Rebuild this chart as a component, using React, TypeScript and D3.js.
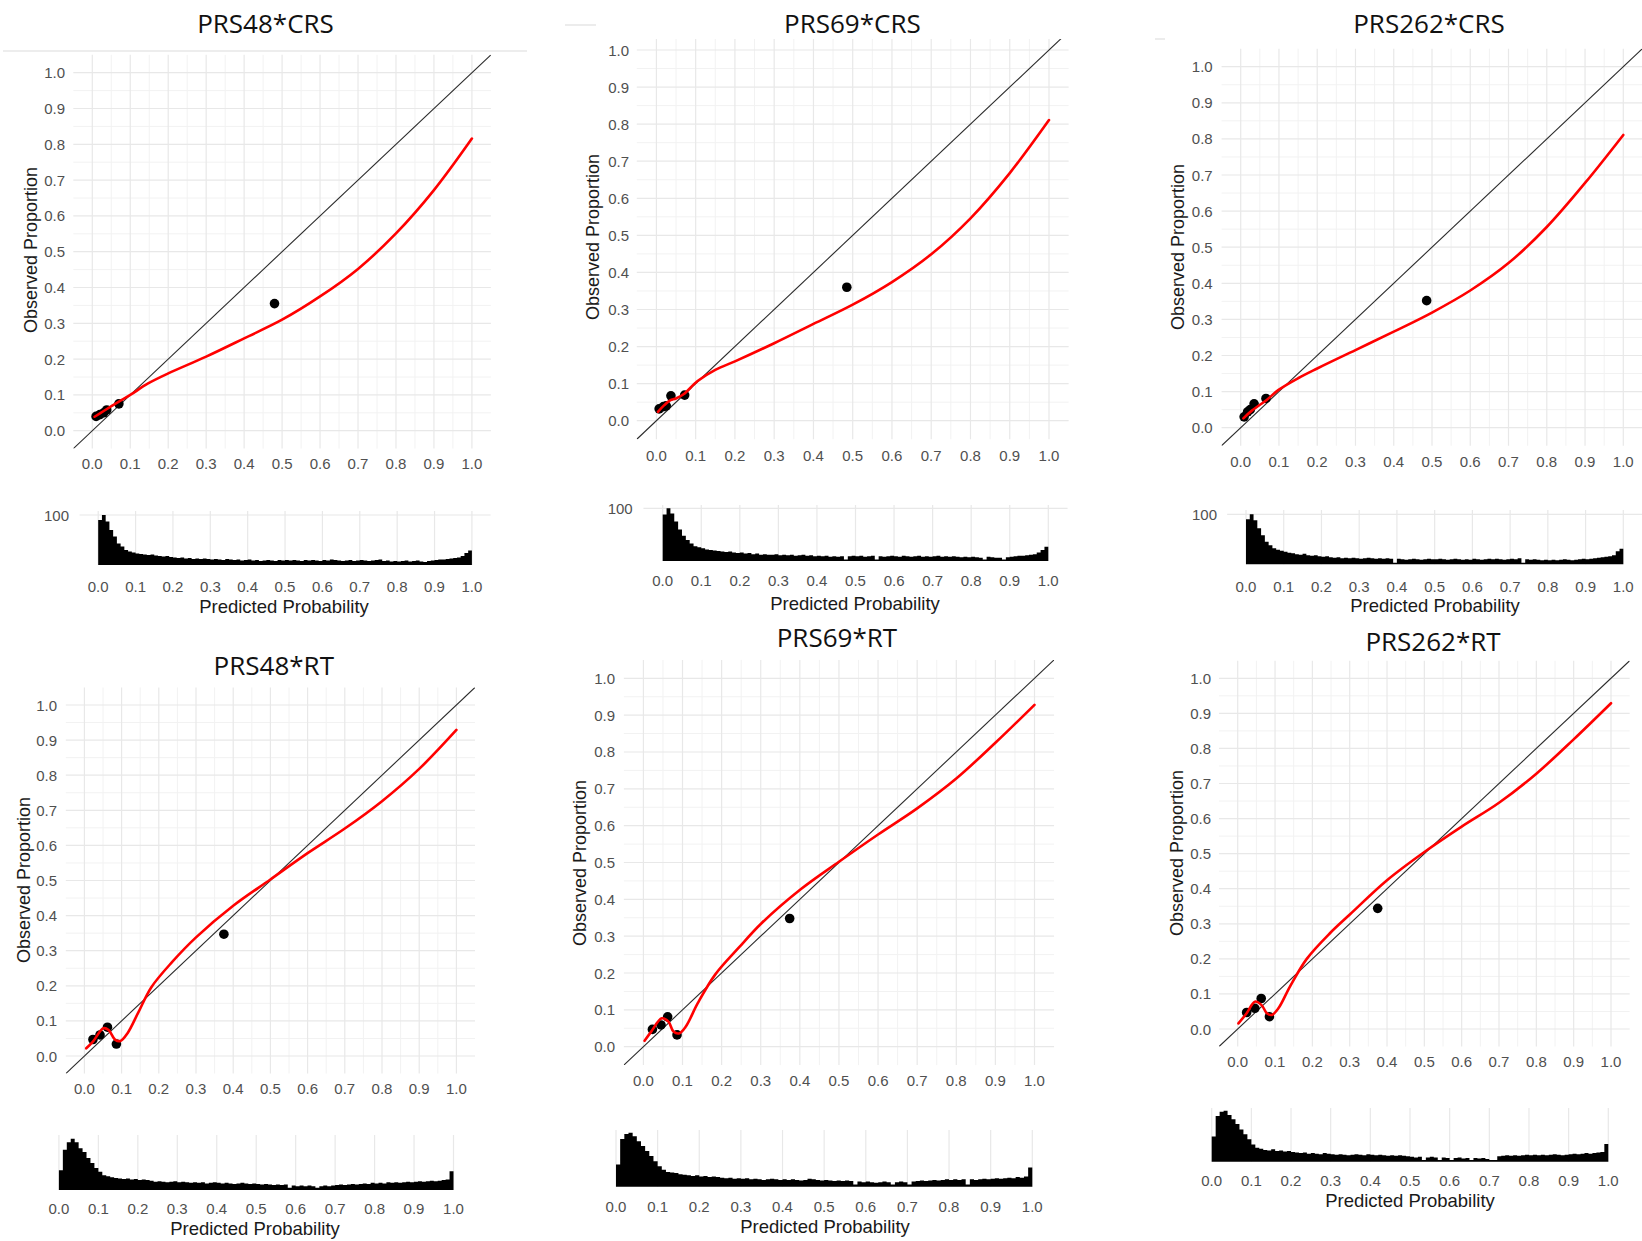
import React from "react";
import * as d3 from "d3";

// ---------- DATA ----------
const panelTitles = ["PRS48*CRS", "PRS69*CRS", "PRS262*CRS", "PRS48*RT", "PRS69*RT", "PRS262*RT"];
const tickValues = [0, 0.1, 0.2, 0.3, 0.4, 0.5, 0.6, 0.7, 0.8, 0.9, 1.0];
const tickLabels = ["0.0", "0.1", "0.2", "0.3", "0.4", "0.5", "0.6", "0.7", "0.8", "0.9", "1.0"];
const minorValues = [0.05, 0.15, 0.25, 0.35, 0.45, 0.55, 0.65, 0.75, 0.85, 0.95];
const histCountTick = 100;
const yAxisTitle = "Observed Proportion";
const xAxisTitle = "Predicted Probability";

const curve48CRS = [[0.006,0.039],[0.03,0.055],[0.07,0.081],[0.1,0.1],[0.147,0.132],[0.2,0.16],[0.3,0.207],[0.4,0.258],[0.5,0.31],[0.6,0.375],[0.7,0.452],[0.8,0.551],[0.9,0.672],[1.0,0.816]];
const points48CRS = [[0.01,0.04],[0.02,0.045],[0.03,0.05],[0.038,0.058],[0.07,0.075],[0.48,0.355]];

const curve69CRS = [[0.004,0.024],[0.02,0.042],[0.035,0.055],[0.05,0.06],[0.07,0.072],[0.105,0.107],[0.15,0.137],[0.2,0.16],[0.3,0.209],[0.4,0.261],[0.5,0.313],[0.6,0.374],[0.7,0.449],[0.8,0.546],[0.9,0.668],[1.0,0.811]];
const points69CRS = [[0.007,0.032],[0.018,0.038],[0.025,0.04],[0.037,0.067],[0.072,0.069],[0.485,0.36]];

const curve262CRS = [[0.007,0.026],[0.03,0.048],[0.068,0.077],[0.098,0.104],[0.15,0.137],[0.2,0.164],[0.3,0.215],[0.4,0.266],[0.5,0.319],[0.6,0.38],[0.7,0.456],[0.8,0.556],[0.9,0.678],[1.0,0.811]];
const points262CRS = [[0.009,0.03],[0.018,0.044],[0.025,0.05],[0.035,0.066],[0.066,0.081],[0.486,0.352]];

const curve48RT = [[0.005,0.022],[0.023,0.041],[0.051,0.079],[0.065,0.074],[0.083,0.046],[0.097,0.043],[0.116,0.065],[0.144,0.122],[0.18,0.196],[0.236,0.268],[0.3,0.338],[0.4,0.428],[0.5,0.503],[0.6,0.578],[0.7,0.648],[0.8,0.726],[0.9,0.818],[1.0,0.929]];
const points48RT = [[0.023,0.047],[0.042,0.06],[0.062,0.082],[0.086,0.034],[0.375,0.347]];

const curve69RT = [[0.003,0.016],[0.02,0.041],[0.047,0.077],[0.064,0.068],[0.077,0.041],[0.091,0.036],[0.108,0.054],[0.139,0.118],[0.183,0.195],[0.245,0.27],[0.302,0.335],[0.403,0.428],[0.5,0.502],[0.6,0.576],[0.7,0.647],[0.8,0.728],[0.9,0.825],[1.0,0.928]];
const points69RT = [[0.023,0.047],[0.045,0.059],[0.062,0.081],[0.086,0.032],[0.374,0.348]];

const curve262RT = [[0.002,0.016],[0.024,0.045],[0.046,0.078],[0.064,0.068],[0.078,0.045],[0.091,0.04],[0.109,0.059],[0.14,0.121],[0.185,0.2],[0.247,0.273],[0.301,0.327],[0.4,0.424],[0.502,0.506],[0.6,0.577],[0.7,0.645],[0.8,0.728],[0.9,0.826],[1.0,0.929]];
const points262RT = [[0.024,0.047],[0.046,0.059],[0.063,0.087],[0.085,0.035],[0.375,0.344]];

// histogram counts, bins of width 0.01 from 0.00 to 1.00
const hist48CRS = [90,100,87,70,57,43,37,30,27,25, 23,22,21,20,21,19,18,17,18,16, 15,14,15,13,14,12,13,12,13,12, 11,12,11,10,12,11,10,11,9,10, 11,9,10,8,9,10,9,8,10,9, 10,9,10,9,8,10,9,10,9,8, 10,9,11,10,9,8,9,10,8,9, 10,9,8,9,10,11,8,9,7,8, 7,8,9,7,8,9,7,6,8,9, 10,11,11,12,13,14,15,18,24,29];
const hist69CRS = [88,100,90,75,60,48,40,33,28,26, 24,22,21,20,19,18,17,18,16,15, 16,14,15,13,14,12,13,12,12,13, 11,12,11,12,10,11,12,10,11,9, 10,9,10,8,9,8,9,3,9,10, 9,10,8,9,10,3,9,8,9,10, 9,8,10,9,8,9,10,8,9,8, 9,10,8,9,8,9,8,7,8,7, 8,7,6,3,8,7,6,6,3,7, 8,9,10,10,11,12,13,16,21,27];
const hist262CRS = [90,100,88,72,58,45,38,32,29,27, 25,23,22,20,19,21,18,17,18,16, 15,16,14,13,14,12,13,12,13,12, 11,12,13,12,11,12,11,12,11,3, 11,10,9,10,11,10,9,10,11,10, 10,11,10,9,10,11,10,9,10,9, 11,10,9,10,11,10,11,10,9,10, 11,10,12,3,10,9,10,9,8,9, 8,9,8,9,10,9,8,9,10,11, 10,11,12,13,14,15,16,18,26,31];
const hist48RT = [36,73,87,93,87,76,69,58,49,40, 33,27,25,23,22,21,20,21,19,20, 18,19,18,17,15,16,15,14,15,16, 14,15,14,13,14,13,14,12,13,14, 13,12,13,12,11,12,13,12,11,12, 11,10,11,10,9,10,9,10,4,8, 7,8,7,8,7,4,7,8,7,8, 9,10,9,10,11,10,11,12,11,13, 12,13,12,14,13,14,13,14,15,14, 15,16,15,16,17,16,17,18,19,34];
const hist69RT = [39,84,93,95,89,80,72,63,54,45, 36,30,26,25,24,22,21,20,19,20, 18,19,17,18,17,16,15,16,14,15, 14,15,13,14,13,12,13,14,13,12, 13,12,13,12,11,12,14,13,12,11, 12,11,10,11,10,11,10,4,9,8, 9,8,7,8,9,8,4,8,9,8, 4,9,10,11,10,11,12,11,12,13, 12,13,12,13,4,13,12,13,14,13, 14,15,14,15,16,15,17,16,18,34];
const hist262RT = [47,85,93,95,87,79,70,60,51,42, 32,26,24,22,21,23,20,21,19,20, 18,17,16,17,15,16,15,14,16,15, 14,13,14,13,12,13,14,13,12,14, 13,12,13,12,11,12,11,12,11,10, 9,8,9,3,8,9,8,3,8,7, 3,7,8,6,7,3,7,6,7,5, 3,3,10,11,12,11,12,11,12,13, 12,13,12,13,12,13,14,13,12,13, 14,15,14,15,16,15,16,17,18,33];

const panelCurves = [curve48CRS, curve69CRS, curve262CRS, curve48RT, curve69RT, curve262RT];
const panelPoints = [points48CRS, points69CRS, points262CRS, points48RT, points69RT, points262RT];
const panelHists = [hist48CRS, hist69CRS, hist262CRS, hist48RT, hist69RT, hist262RT];

// ---------- LAYOUT ----------
const layouts = [
  { tx: 265.5, ty: 23, x0: 92.3, x1: 471.9, y0: 430.7, y1: 72.7, ptop: null, xly: 463, ylx: 65, ytx: 31, yty: 250,
    h: { x0: 98.2, x1: 471.9, base: 565, top100: 515, ptop: 511, xly: 586, showY: true, ylx: 69, xtx: 284, xty: 606 } },
  { tx: 852.4, ty: 23, x0: 656.4, x1: 1049, y0: 420.7, y1: 50, ptop: 39, xly: 455, ylx: 629, ytx: 593, yty: 237,
    h: { x0: 662.7, x1: 1048.3, base: 561, top100: 508.3, ptop: 505, xly: 580, showY: true, ylx: 632.7, xtx: 855, xty: 603 } },
  { tx: 1429, ty: 23, x0: 1240.7, x1: 1623.3, y0: 427.7, y1: 66.7, ptop: null, xly: 461, ylx: 1212.7, ytx: 1178, yty: 247,
    h: { x0: 1246, x1: 1623.3, base: 564.3, top100: 514.3, ptop: 510, xly: 586, showY: true, ylx: 1217, xtx: 1435, xty: 605 } },
  { tx: 273.8, ty: 665, x0: 84.4, x1: 456.4, y0: 1056, y1: 705, ptop: null, xly: 1088, ylx: 57, ytx: 24, yty: 880,
    h: { x0: 58.9, x1: 453.5, base: 1190, top100: 1135, ptop: 1135, xly: 1208, showY: false, ylx: 0, xtx: 255, xty: 1228 } },
  { tx: 836.9, ty: 637, x0: 643.4, x1: 1034.5, y0: 1046.7, y1: 678.3, ptop: null, xly: 1080, ylx: 615, ytx: 580, yty: 863,
    h: { x0: 616, x1: 1032.3, base: 1186.7, top100: 1130, ptop: 1130, xly: 1206.7, showY: false, ylx: 0, xtx: 825, xty: 1226.7 } },
  { tx: 1433, ty: 641, x0: 1237.7, x1: 1611, y0: 1029, y1: 678.3, ptop: null, xly: 1061.7, ylx: 1211, ytx: 1177, yty: 853,
    h: { x0: 1211.7, x1: 1608.3, base: 1161.7, top100: 1108, ptop: 1108, xly: 1180.7, showY: false, ylx: 0, xtx: 1410, xty: 1200.7 } },
];

const W = 1642, H = 1241;
const tickFont = "'Liberation Sans', Arial, sans-serif";
const tickColor = "#505050";
const gridMajor = "#e8e8e8";
const gridMinor = "#f2f2f2";

function Panel({ idx }: { idx: number }) {
  const L: any = layouts[idx];
  const curve = panelCurves[idx];
  const pts = panelPoints[idx];
  const hist = panelHists[idx];
  const x = d3.scaleLinear().domain([0, 1]).range([L.x0, L.x1]);
  const y = d3.scaleLinear().domain([0, 1]).range([L.y0, L.y1]);
  const px0 = x(-0.05), px1 = Math.min(x(1.05), W);
  const py0 = L.ptop != null ? L.ptop : y(1.05), py1 = y(-0.05);
  const clipId = `clip${idx}`;
  const line = d3.line<number[]>().x(d => x(d[0])).y(d => y(d[1])).curve(d3.curveCatmullRom.alpha(0.5));

  const Hh = L.h;
  const hx = d3.scaleLinear().domain([0, 1]).range([Hh.x0, Hh.x1]);
  const hy = d3.scaleLinear().domain([0, histCountTick]).range([Hh.base, Hh.top100]);
  const binW = 1 / hist.length;
  const histData = hist.map((c, i) => [i * binW, c]).concat([[1, hist[hist.length - 1]]]);
  const area = d3.area<number[]>().x(d => hx(d[0])).y0(Hh.base).y1(d => hy(d[1])).curve(d3.curveStepAfter);
  const hpx0 = hx(-0.05), hpx1 = Math.min(hx(1.05), W);

  return (
    <g>
      <defs>
        <clipPath id={clipId}>
          <rect x={px0} y={py0} width={px1 - px0} height={py1 - py0} />
        </clipPath>
      </defs>
      <text x={L.tx} y={L.ty} textAnchor="middle" dominantBaseline="central"
        style={{ fontFamily: "'Open Sans', 'Noto Sans', sans-serif", fontSize: 26, fill: "#111" }}>{panelTitles[idx]}</text>
      {minorValues.map(v => (
        <g key={"mi" + v}>
          <line x1={x(v)} x2={x(v)} y1={py0} y2={py1} stroke={gridMinor} strokeWidth={1} />
          <line x1={px0} x2={px1} y1={y(v)} y2={y(v)} stroke={gridMinor} strokeWidth={1} />
        </g>
      ))}
      {tickValues.map(v => (
        <g key={"ma" + v}>
          <line x1={x(v)} x2={x(v)} y1={py0} y2={py1} stroke={gridMajor} strokeWidth={1.2} />
          <line x1={px0} x2={px1} y1={y(v)} y2={y(v)} stroke={gridMajor} strokeWidth={1.2} />
        </g>
      ))}
      <line x1={x(-0.05)} y1={y(-0.05)} x2={x(1.05)} y2={y(1.05)} stroke="#2a2a2a" strokeWidth={1.1} clipPath={`url(#${clipId})`} />
      {pts.map((p, i) => (
        <circle key={i} cx={x(p[0])} cy={y(p[1])} r={4.8} fill="#000" />
      ))}
      <path d={line(curve as any) || ""} fill="none" stroke="#ff0000" strokeWidth={2.6} strokeLinecap="round" strokeLinejoin="round" />
      {tickValues.map((v, i) => (
        <text key={"xl" + v} x={x(v)} y={L.xly} textAnchor="middle" dominantBaseline="central"
          style={{ fontFamily: tickFont, fontSize: 15, fill: tickColor }}>{tickLabels[i]}</text>
      ))}
      {tickValues.map((v, i) => (
        <text key={"yl" + v} x={L.ylx} y={y(v)} textAnchor="end" dominantBaseline="central"
          style={{ fontFamily: tickFont, fontSize: 15, fill: tickColor }}>{tickLabels[i]}</text>
      ))}
      <text transform={`translate(${L.ytx},${L.yty}) rotate(-90)`} textAnchor="middle" dominantBaseline="central"
        style={{ fontFamily: tickFont, fontSize: 18, fill: "#1a1a1a" }}>{yAxisTitle}</text>

      {tickValues.map(v => (
        <line key={"hg" + v} x1={hx(v)} x2={hx(v)} y1={Hh.ptop} y2={Hh.base} stroke={gridMajor} strokeWidth={1.2} />
      ))}
      {Hh.showY && (
        <line x1={hpx0} x2={hpx1} y1={hy(histCountTick)} y2={hy(histCountTick)} stroke={gridMajor} strokeWidth={1.2} />
      )}
      <path d={area(histData as any) || ""} fill="#000" stroke="none" />
      {Hh.showY && (
        <text x={Hh.ylx} y={hy(histCountTick)} textAnchor="end" dominantBaseline="central"
          style={{ fontFamily: tickFont, fontSize: 15, fill: tickColor }}>{String(histCountTick)}</text>
      )}
      {tickValues.map((v, i) => (
        <text key={"hxl" + v} x={hx(v)} y={Hh.xly} textAnchor="middle" dominantBaseline="central"
          style={{ fontFamily: tickFont, fontSize: 15, fill: tickColor }}>{tickLabels[i]}</text>
      ))}
      <text x={Hh.xtx} y={Hh.xty} textAnchor="middle" dominantBaseline="central"
        style={{ fontFamily: tickFont, fontSize: 18.5, fill: "#1a1a1a" }}>{xAxisTitle}</text>
    </g>
  );
}

export default function App() {
  return (
    <div style={{ position: "absolute", left: 0, top: 0, width: W, height: H, background: "#fff" }}>
      <svg width={W} height={H} viewBox={`0 0 ${W} ${H}`} style={{ display: "block" }}>
        <rect x={0} y={0} width={W} height={H} fill="#fff" />
        <line x1={3} x2={527} y1={51} y2={51} stroke="#dcdcdc" strokeWidth={1.2} />
        <line x1={565} x2={596} y1={25} y2={25} stroke="#e0e0e0" strokeWidth={1.2} />
        <line x1={1155} x2={1165} y1={39} y2={39} stroke="#e0e0e0" strokeWidth={1.2} />
        {layouts.map((_, i) => <Panel key={i} idx={i} />)}
      </svg>
    </div>
  );
}
